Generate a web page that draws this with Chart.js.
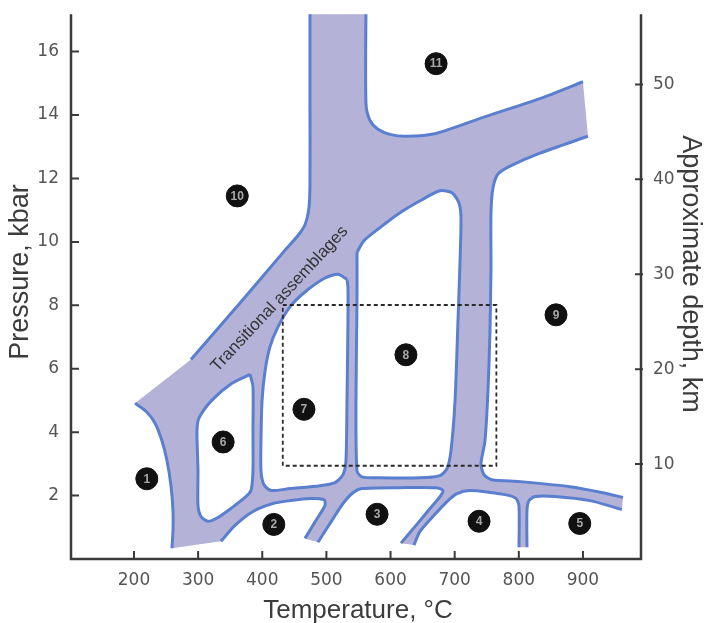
<!DOCTYPE html>
<html lang="en">
<head>
<meta charset="UTF-8">
<title>Metamorphic facies</title>
<script src="https://cdn.jsdelivr.net/npm/chart.js"></script>
<style>
  body { margin: 0; background: #fff; }
</style>
</head>
<body>
<canvas id="facies" width="706" height="623"></canvas>
<script>
// axes
const tempTicks = [200, 300, 400, 500, 600, 700, 800, 900];
const pressTicks = [2, 4, 6, 8, 10, 12, 14, 16];
const depthTicks = [10, 20, 30, 40, 50];
const tempRange = [101.8, 990.5];
const pressRange = [0, 17.18];
const depthMax = 57.4;

// numbered fields (T degC, P kbar)
const fieldNo = ['1', '2', '3', '4', '5', '6', '7', '8', '9', '10', '11'];
const fieldT = [220, 418, 579, 738, 895, 339, 465, 624, 858, 361, 671];
const fieldP = [2.53, 1.09, 1.41, 1.19, 1.12, 3.69, 4.72, 6.44, 7.70, 11.45, 15.62];

// dashed box
const boxT = [432, 765];
const boxP = [2.94, 8.01];

// boundaries of the open fields, walked round the band clockwise
const edge10 = [[288.9,6.29],[365.3,8.07],[433.9,9.70],[455.7,10.20],[466.6,10.54],[472.8,11.08],[474.4,11.86],[474.4,14.36],[474.4,17.5]];
const edge11 = [[561.7,17.5],[561.7,14.36],[567.9,13.83],[580.4,13.55],[599.1,13.39],[624.1,13.33],[670.8,13.42],[748.8,13.96],[833.0,14.52],[900.0,15.05]];
const edge9 = [[907.8,13.33],[833.0,12.80],[786.2,12.39],[767.5,12.14],[759.7,11.70],[756.6,10.92],[756.6,9.14],[755.0,7.16],[751.9,5.29],[747.2,3.72],[741.0,3.00],[745.7,2.66],[758.2,2.50],[801.8,2.44],[879.8,2.28],[931.2,2.09],[962.4,1.94]];
const edge5 = [[960.8,1.56],[910.9,1.84],[856.4,1.97],[825.2,1.97],[815.8,1.84],[812.7,1.53],[812.7,0.37]];
const edge4 = [[800.3,0.37],[800.3,1.66],[795.6,1.91],[778.4,2.03],[723.9,2.16],[703.6,2.06],[688.0,1.81],[669.3,1.41],[645.9,0.87],[636.5,0.44]];
const edge3 = [[616.3,0.50],[639.7,1.06],[661.5,1.59],[677.1,1.97],[681.8,2.16],[670.8,2.25],[614.7,2.25],[555.5,2.22],[541.4,2.09],[525.9,1.75],[508.7,1.22],[486.9,0.53]];
const edge2 = [[466.6,0.65],[483.8,1.22],[497.8,1.69],[496.2,1.87],[474.4,1.91],[443.2,1.84],[416.7,1.75],[385.5,1.50],[357.5,1.06],[335.6,0.56]];
const edge1 = [[259.2,0.34],[260.8,0.90],[260.8,1.53],[257.7,2.31],[251.5,3.10],[243.7,3.72],[232.7,4.29],[218.7,4.66],[201.6,4.91]];

// closed fields inside the band
const cell6 = [[380.9,5.82],[352.8,5.54],[321.6,5.01],[301.3,4.44],[298.2,4.03],[299.8,2.78],[299.8,1.69],[304.5,1.34],[315.4,1.19],[331.0,1.31],[352.8,1.62],[373.1,1.94],[382.4,2.16],[385.5,2.78],[385.5,4.03],[385.5,5.44]];
const cell7 = [[532.1,8.82],[518.1,8.98],[497.8,8.86],[466.6,8.42],[443.2,7.95],[424.5,7.32],[412.0,6.69],[404.2,5.91],[399.6,4.97],[398.0,3.72],[398.0,2.78],[402.7,2.34],[413.6,2.16],[443.2,2.22],[490.0,2.31],[513.4,2.41],[525.9,2.66],[530.5,3.10],[532.1,4.97],[533.6,7.48],[533.6,8.57]];
const cell8 = [[547.7,9.67],[558.6,10.04],[583.5,10.45],[614.7,10.92],[649.0,11.33],[677.1,11.61],[695.8,11.55],[706.7,11.23],[709.8,10.76],[708.3,9.36],[705.1,7.48],[700.5,4.97],[694.2,3.41],[688.0,2.85],[677.1,2.63],[645.9,2.56],[583.5,2.56],[555.5,2.59],[547.7,2.78],[546.1,4.97],[547.7,8.10]];

const bandLabelAt = [427, 8.2];

const LAV = '#b5b2d8';
const BLUE = '#5a7fcf';
const AXIS = '#3a3a3a';
const TENSION = 0.25;

const pts = a => a.map(([x, y]) => ({x, y}));
const closed = a => pts(a.concat([a[0]]));
const band = [].concat(edge10, edge11, edge9, edge5, edge4, edge3, edge2, edge1);

const datasets = [];
// the lavender band: straight caps, so no tension here
datasets.push({
    data: pts(band), showLine: true, fill: 'shape', backgroundColor: LAV,
    borderColor: 'rgba(0,0,0,0)', borderWidth: 0, pointRadius: 0, tension: 0, order: 5
});
[cell6, cell7, cell8].forEach(c => datasets.push({
    data: closed(c), showLine: true, fill: 'shape', backgroundColor: '#fff',
    borderColor: BLUE, borderWidth: 3, pointRadius: 0, tension: TENSION, order: 4
}));
[edge10, edge11, edge9, edge5, edge4, edge3, edge2, edge1].forEach(e => datasets.push({
    data: pts(e), showLine: true, fill: false, borderColor: BLUE, borderWidth: 3,
    pointRadius: 0, tension: TENSION, order: 3
}));
datasets.push({
    data: pts([[boxT[0], boxP[1]], [boxT[1], boxP[1]], [boxT[1], boxP[0]], [boxT[0], boxP[0]], [boxT[0], boxP[1]]]),
    showLine: true, fill: false, borderColor: '#2a2a2a', borderWidth: 1.8, borderDash: [4, 3],
    pointRadius: 0, order: 2
});
const markerIndex = datasets.length;
datasets.push({
    data: fieldT.map((t, i) => ({x: t, y: fieldP[i]})),
    showLine: false, pointRadius: 11, pointHoverRadius: 11,
    pointBackgroundColor: '#111', pointBorderColor: '#111', order: 1
});

const tickFont = {family: '"DejaVu Sans", sans-serif', size: 17};
const setTicks = list => scale => { scale.ticks = list.map(v => ({value: v})); };

const decorations = {
    id: 'decorations',
    afterDatasetsDraw(chart) {
        const {ctx, chartArea: a, scales: {x, y, y2}} = chart;
        ctx.save();

        // frame and inward ticks
        ctx.strokeStyle = AXIS;
        ctx.lineWidth = 2.5;
        ctx.beginPath();
        ctx.moveTo(a.left, a.top);
        ctx.lineTo(a.left, a.bottom);
        ctx.lineTo(a.right, a.bottom);
        ctx.lineTo(a.right, a.top);
        ctx.stroke();
        ctx.lineWidth = 2;
        ctx.beginPath();
        tempTicks.forEach(v => {
            const px = x.getPixelForValue(v);
            ctx.moveTo(px, a.bottom); ctx.lineTo(px, a.bottom - 8);
        });
        pressTicks.forEach(v => {
            const py = y.getPixelForValue(v);
            ctx.moveTo(a.left, py); ctx.lineTo(a.left + 8, py);
        });
        depthTicks.forEach(v => {
            const py = y2.getPixelForValue(v);
            ctx.moveTo(a.right - 6, py); ctx.lineTo(a.right + 2, py);
        });
        ctx.stroke();

        // numbers in the circles
        ctx.fillStyle = '#a8a8a8';
        ctx.font = 'bold 12px "Liberation Sans", Arial, sans-serif';
        ctx.textAlign = 'center';
        ctx.textBaseline = 'middle';
        chart.getDatasetMeta(markerIndex).data.forEach((p, i) => {
            ctx.fillText(fieldNo[i], p.x, p.y + 0.5);
        });

        // band label
        ctx.save();
        ctx.translate(x.getPixelForValue(bandLabelAt[0]), y.getPixelForValue(bandLabelAt[1]));
        ctx.rotate(-47 * Math.PI / 180);
        ctx.fillStyle = '#333';
        ctx.font = '17px "Liberation Sans", Arial, sans-serif';
        ctx.fillText('Transitional assemblages', 0, 0);
        ctx.restore();

        // axis titles
        ctx.fillStyle = '#3c3c3c';
        ctx.font = '26px "Liberation Sans", Arial, sans-serif';
        ctx.textBaseline = 'alphabetic';
        ctx.fillText('Temperature, °C', 358, 618);

        ctx.font = '27px "Liberation Sans", Arial, sans-serif';
        ctx.save();
        ctx.translate(28, 272);
        ctx.rotate(-Math.PI / 2);
        ctx.fillText('Pressure, kbar', 0, 0);
        ctx.restore();

        ctx.save();
        ctx.translate(683, 274);
        ctx.rotate(Math.PI / 2);
        ctx.fillText('Approximate depth, km', 0, 0);
        ctx.restore();

        ctx.restore();
    }
};

new Chart(document.getElementById('facies'), {
    type: 'scatter',
    data: {datasets},
    options: {
        responsive: false,
        animation: false,
        events: [],
        layout: {padding: {top: 10, left: 0, right: 0, bottom: 0}},
        plugins: {legend: {display: false}, tooltip: {enabled: false}},
        scales: {
            x: {
                type: 'linear', min: tempRange[0], max: tempRange[1],
                grid: {display: false}, border: {display: false},
                afterBuildTicks: setTicks(tempTicks),
                afterFit: s => { s.height = 64; },
                ticks: {font: tickFont, color: '#555', padding: 3}
            },
            y: {
                type: 'linear', position: 'left', min: pressRange[0], max: pressRange[1],
                grid: {display: false}, border: {display: false},
                afterBuildTicks: setTicks(pressTicks),
                afterFit: s => { s.width = 71; },
                ticks: {font: tickFont, color: '#555', padding: 4}
            },
            y2: {
                type: 'linear', position: 'right', min: 0, max: depthMax,
                grid: {display: false}, border: {display: false},
                afterBuildTicks: setTicks(depthTicks),
                afterFit: s => { s.width = 65; },
                ticks: {font: tickFont, color: '#555', padding: 4}
            }
        }
    },
    plugins: [decorations]
});
</script>
</body>
</html>
